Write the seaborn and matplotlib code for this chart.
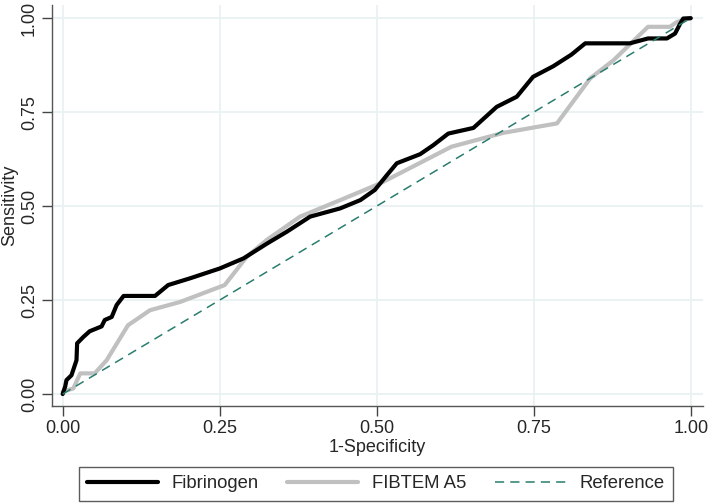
import matplotlib
matplotlib.use("Agg")
import matplotlib.pyplot as plt
import seaborn as sns
import pandas as pd

sns.set_theme(style="white")
plt.rcParams['font.family'] = ['Liberation Sans', 'DejaVu Sans']

# Fibrinogen ROC curve (1-specificity, sensitivity)
fib_x = [0.000, 0.004, 0.006, 0.014, 0.022, 0.023, 0.033, 0.043, 0.062, 0.067, 0.078, 0.086,
         0.097, 0.147, 0.168, 0.203, 0.250, 0.288, 0.325, 0.357, 0.394, 0.442, 0.474, 0.497,
         0.516, 0.532, 0.569, 0.590, 0.614, 0.654, 0.691, 0.723, 0.749, 0.781, 0.810, 0.832,
         0.903, 0.932, 0.962, 0.975, 0.979, 0.983, 0.988, 1.000]
fib_y = [0.000, 0.020, 0.037, 0.050, 0.090, 0.135, 0.152, 0.167, 0.180, 0.197, 0.205, 0.237,
         0.261, 0.261, 0.290, 0.308, 0.334, 0.361, 0.400, 0.432, 0.472, 0.494, 0.516, 0.543,
         0.582, 0.614, 0.638, 0.662, 0.693, 0.708, 0.764, 0.791, 0.844, 0.872, 0.903, 0.933,
         0.933, 0.946, 0.946, 0.959, 0.972, 0.985, 0.999, 1.000]

# FIBTEM A5 ROC curve
fib5_x = [0.000, 0.000, 0.017, 0.028, 0.051, 0.070, 0.104, 0.139, 0.187, 0.258, 0.293, 0.325,
          0.378, 0.442, 0.505, 0.619, 0.702, 0.787, 0.840, 0.877, 0.932, 0.967, 0.978, 1.000]
fib5_y = [0.000, 0.012, 0.015, 0.055, 0.055, 0.090, 0.183, 0.223, 0.245, 0.290, 0.365, 0.410,
          0.472, 0.516, 0.560, 0.658, 0.695, 0.720, 0.840, 0.888, 0.977, 0.977, 0.990, 1.000]

ref_x = [0.0, 1.0]
ref_y = [0.0, 1.0]

ticks = [0.0, 0.25, 0.5, 0.75, 1.0]
tick_labels = ["0.00", "0.25", "0.50", "0.75", "1.00"]

fig = plt.figure(figsize=(7.09, 5.03), dpi=100)
ax = fig.add_axes([52/709, 1-405.7/503, (703-52)/709, (405.7-5)/503])

grid_c = "#e8f1f3"
for t in ticks:
    ax.axvline(t, color=grid_c, lw=1.3, zorder=0)
    ax.axhline(t, color=grid_c, lw=1.3, zorder=0)

d1 = pd.DataFrame({"x": fib_x, "y": fib_y})
d2 = pd.DataFrame({"x": fib5_x, "y": fib5_y})
d3 = pd.DataFrame({"x": ref_x, "y": ref_y})

sns.lineplot(data=d1, x="x", y="y", sort=False, ax=ax, color="black", lw=3.0,
             label="Fibrinogen", zorder=3)
sns.lineplot(data=d2, x="x", y="y", sort=False, ax=ax, color="#c0c0c0", lw=3.0,
             label="FIBTEM A5", zorder=2)
sns.lineplot(data=d3, x="x", y="y", sort=False, ax=ax, color="#2a7d6e", lw=1.1,
             linestyle=(0, (6, 4)), label="Reference", zorder=4)

ax.set_xlim(-0.017, 1.0195)
ax.set_ylim(-0.031, 1.035)
ax.set_xticks(ticks)
ax.set_xticklabels(tick_labels, fontsize=13)
ax.set_yticks(ticks)
ax.set_yticklabels(tick_labels, fontsize=13, rotation=90, va="center")
ax.tick_params(axis="both", direction="out", length=7, width=1, color="#444444",
               bottom=True, left=True, pad=3)
ax.set_xlabel("1-Specificity", fontsize=13, labelpad=2)
ax.set_ylabel("Sensitivity", fontsize=13, labelpad=2)

for s in ["top", "right"]:
    ax.spines[s].set_visible(False)
for s in ["left", "bottom"]:
    ax.spines[s].set_color("#555555")
    ax.spines[s].set_linewidth(1.0)
ax.set_facecolor("white")
ax.grid(False)

h, l = ax.get_legend_handles_labels()
ax.get_legend().remove()
leg = fig.legend(h, l, loc="center", bbox_to_anchor=(375.7/709, 1-484/503), ncol=3,
                 fontsize=13.3, frameon=True, fancybox=False, handlelength=3.85,
                 handletextpad=0.72, columnspacing=1.55, borderpad=0.45, borderaxespad=0)
leg.get_frame().set_edgecolor("#333333")
leg.get_frame().set_linewidth(1.0)

fig.savefig("out.png", dpi=100, facecolor="white")
